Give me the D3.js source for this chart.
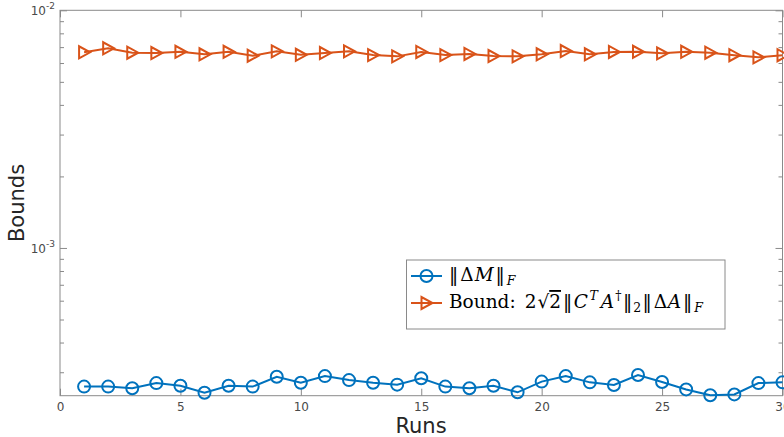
<!DOCTYPE html>
<html><head><meta charset="utf-8">
<script src="https://cdn.jsdelivr.net/npm/d3@7"></script>
<style>body{margin:0;background:#fff;overflow:hidden}svg{display:block}</style>
</head><body>
<svg id="c" width="784" height="437"></svg>
<script>
const runs = d3.range(1, 31);
const deltaM = [2.61,2.61,2.57,2.70,2.63,2.46,2.63,2.61,2.87,2.71,2.89,2.78,2.71,2.66,2.83,2.61,2.57,2.63,2.47,2.74,2.89,2.72,2.65,2.92,2.73,2.54,2.40,2.42,2.70,2.72].map(v => v * 1e-4);
const bound = [6.66,6.92,6.63,6.61,6.69,6.53,6.69,6.44,6.72,6.50,6.61,6.72,6.48,6.40,6.68,6.48,6.55,6.42,6.40,6.53,6.74,6.53,6.68,6.69,6.59,6.69,6.63,6.47,6.34,6.47].map(v => v * 1e-3);
const xTicks = [0, 5, 10, 15, 20, 25, 30];
const yMajor = [1e-3, 1e-2];
const yMinor = [3e-4,4e-4,5e-4,6e-4,7e-4,8e-4,9e-4,2e-3,3e-3,4e-3,5e-3,6e-3,7e-3,8e-3,9e-3];
const yLabels = ["-3", "-2"];

const L = 60, R = 782.5, T = 10.3, B = 395.7;
const blue = "#0072BD", orange = "#D95319";
const axisCol = "#8a8a8a", textCol = "#4a4a4a";
const svg = d3.select("#c");
const x = d3.scaleLinear().domain([0, 30]).range([L, R]);
const y = d3.scaleLog().domain([2.39e-4, 1e-2]).range([B, T]);

svg.append("defs").append("clipPath").attr("id", "clip")
  .append("rect").attr("x", L - 8).attr("y", T - 8).attr("width", R - L + 16).attr("height", B - T + 16);

svg.append("rect").attr("x", L).attr("y", T).attr("width", R - L).attr("height", B - T)
  .attr("fill", "none").attr("stroke", axisCol).attr("stroke-width", 1);

const xb = svg.append("g").attr("transform", `translate(0,${B})`)
  .call(d3.axisBottom(x).tickValues(xTicks).tickSize(-7).tickPadding(7).tickFormat(d3.format("d")));
const xt = svg.append("g").attr("transform", `translate(0,${T})`)
  .call(d3.axisTop(x).tickValues(xTicks).tickSize(-7).tickFormat(""));
const yl = svg.append("g").attr("transform", `translate(${L},0)`)
  .call(d3.axisLeft(y).tickValues(yMajor).tickSize(-7).tickFormat(""));
const yr = svg.append("g").attr("transform", `translate(${R},0)`)
  .call(d3.axisRight(y).tickValues(yMajor).tickSize(-7).tickFormat(""));
const ylm = svg.append("g").attr("transform", `translate(${L},0)`)
  .call(d3.axisLeft(y).tickValues(yMinor).tickSize(-4).tickFormat(""));
const yrm = svg.append("g").attr("transform", `translate(${R},0)`)
  .call(d3.axisRight(y).tickValues(yMinor).tickSize(-4).tickFormat(""));
[xb, xt, yl, yr, ylm, yrm].forEach(g => {
  g.select(".domain").remove();
  g.selectAll("line").attr("stroke", axisCol);
  g.selectAll("text").attr("fill", textCol).attr("font-family", "DejaVu Sans").attr("font-size", 12);
});

yMajor.forEach((v, i) => {
  const t = svg.append("text").attr("x", L - 5).attr("y", y(v) + 5).attr("text-anchor", "end")
    .attr("font-family", "DejaVu Sans").attr("font-size", 12).attr("fill", textCol);
  t.append("tspan").text("10");
  t.append("tspan").attr("dy", -6).attr("font-size", 9).text(yLabels[i]);
});

svg.append("text").attr("x", 421).attr("y", 433).attr("text-anchor", "middle")
  .attr("font-family", "DejaVu Sans").attr("font-size", 21).attr("fill", "#262626").text("Runs");
svg.append("text").attr("transform", "translate(24,203) rotate(-90)").attr("text-anchor", "middle")
  .attr("font-family", "DejaVu Sans").attr("font-size", 21).attr("fill", "#262626").text("Bounds");

const plot = svg.append("g").attr("clip-path", "url(#clip)");
const line = d3.line().x((d, i) => x(runs[i])).y(d => y(d));
const tri = "M-5,-6L-5,6L6,0Z";

plot.append("path").datum(bound).attr("d", line).attr("fill", "none").attr("stroke", orange).attr("stroke-width", 2);
plot.selectAll(".tri").data(bound).join("path").attr("class", "tri")
  .attr("transform", (d, i) => `translate(${x(runs[i])},${y(d)})`).attr("d", tri)
  .attr("fill", "none").attr("stroke", orange).attr("stroke-width", 2);

plot.append("path").datum(deltaM).attr("d", line).attr("fill", "none").attr("stroke", blue).attr("stroke-width", 2);
plot.selectAll(".circ").data(deltaM).join("circle").attr("class", "circ")
  .attr("cx", (d, i) => x(runs[i])).attr("cy", d => y(d)).attr("r", 6)
  .attr("fill", "none").attr("stroke", blue).attr("stroke-width", 2);

const lg = svg.append("g");
lg.append("rect").attr("x", 406.5).attr("y", 260).attr("width", 318.5).attr("height", 69)
  .attr("fill", "#fff").attr("stroke", axisCol).attr("stroke-width", 1);
const rows = [{c: blue, m: "c", y: 276}, {c: orange, m: "t", y: 303}];
rows.forEach(r => {
  lg.append("line").attr("x1", 411).attr("x2", 442).attr("y1", r.y).attr("y2", r.y).attr("stroke", r.c).attr("stroke-width", 2);
  if (r.m === "c") lg.append("circle").attr("cx", 426.5).attr("cy", r.y).attr("r", 6).attr("fill", "none").attr("stroke", r.c).attr("stroke-width", 2);
  else lg.append("path").attr("transform", `translate(426.5,${r.y})`).attr("d", tri).attr("fill", "none").attr("stroke", r.c).attr("stroke-width", 2);
});
const ff = "'DejaVu Serif', serif";
const fs = 18.5, ss = 12.5;
function piece(t, s, o) {
  const sp = t.append("tspan").text(s);
  if (o.it) sp.attr("font-style", "italic");
  if (o.sm) sp.attr("font-size", ss);
  if (o.dy) sp.attr("dy", o.dy);
  if (o.dx) sp.attr("dx", o.dx);
  if (o.ol) sp.attr("style", "text-decoration: overline");
  return sp;
}
const t1 = lg.append("text").attr("x", 449).attr("y", 281).attr("font-family", ff).attr("font-size", fs).attr("fill", "#000");
piece(t1, "‖", {});
piece(t1, "Δ", {dx: 2});
piece(t1, "M", {it: 1, dx: 1});
piece(t1, "‖", {dx: 2});
piece(t1, "F", {it: 1, sm: 1, dy: 4, dx: 2});

const t2 = lg.append("text").attr("x", 449).attr("y", 308).attr("font-family", ff).attr("font-size", fs).attr("fill", "#000");
piece(t2, "Bound:", {});
piece(t2, "2", {dx: 9});
piece(t2, "√", {dx: 1});
piece(t2, "2", {ol: 1});
piece(t2, "‖", {dx: 2});
piece(t2, "C", {it: 1, dx: 1.5});
piece(t2, "T", {it: 1, sm: 1, dy: -8, dx: 1.5});
piece(t2, "A", {it: 1, dy: 8, dx: 3});
piece(t2, "†", {sm: 1, dy: -8, dx: 1});
piece(t2, "‖", {dy: 8, dx: 1.5});
piece(t2, "2", {sm: 1, dy: 4, dx: 1});
piece(t2, "‖", {dy: -4, dx: 1.5});
piece(t2, "Δ", {dx: 2});
piece(t2, "A", {it: 1, dx: 0.5});
piece(t2, "‖", {dx: 2});
piece(t2, "F", {it: 1, sm: 1, dy: 4, dx: 2});
</script>
</body></html>
